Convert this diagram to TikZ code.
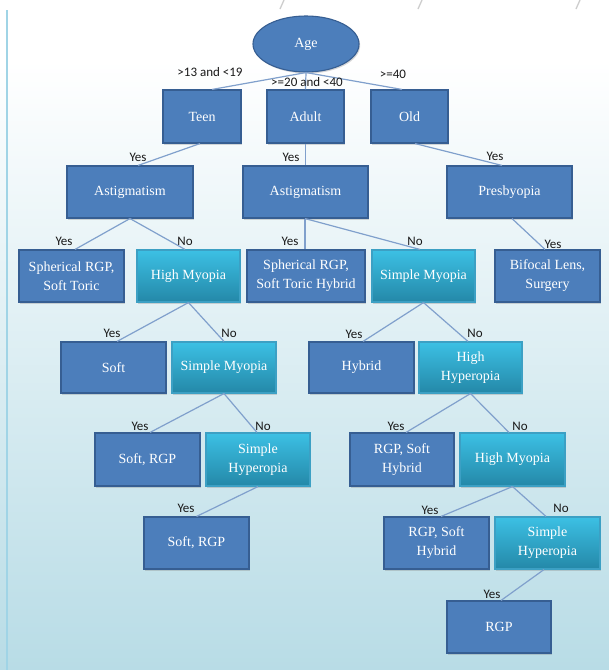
\documentclass[tikz,border=0pt]{standalone}
\usepackage{fontspec}
\setmainfont{Liberation Serif}
\newfontfamily\labelfont{Carlito}
\usetikzlibrary{shapes.geometric,shadows}

\definecolor{bgblue}{RGB}{184,220,230}
\definecolor{rimblue}{RGB}{160,212,230}
\definecolor{boxfill}{RGB}{76,126,187}
\definecolor{boxrim}{RGB}{54,94,146}
\definecolor{cyantop}{RGB}{60,192,228}
\definecolor{cyanbot}{RGB}{36,136,168}
\definecolor{cyanrim}{RGB}{60,160,196}
\definecolor{linkblue}{RGB}{128,160,204}
\definecolor{tickgray}{RGB}{205,205,205}

\tikzset{
  decision/.style={draw=boxrim, fill=boxfill, line width=1.1pt, text=white,
    align=center, inner sep=1pt,
    font=\fontsize{14}{19}\selectfont,
    drop shadow={shadow xshift=1.2pt, shadow yshift=-1.5pt, opacity=0.3}},
  query/.style={decision, draw=cyanrim, top color=cyantop, bottom color=cyanbot},
  rootnode/.style={decision, ellipse, inner sep=0pt},
  link/.style={draw=linkblue, line width=1.2pt},
  lab/.style={font=\labelfont\fontsize{13}{15}\selectfont, text=black!90, inner sep=0pt}
}

\begin{document}
\begin{tikzpicture}[x=1pt,y=-1pt]
\useasboundingbox (0,0) rectangle (609,670);

% page background
\fill[white] (0,0) rectangle (609,670);
\shade[top color=white, bottom color=bgblue] (0,60) rectangle (609,670);
\draw[rimblue, line width=1.5pt] (7,10) -- (7,670);
\draw[tickgray, line width=1.3pt] (284,0) -- (280,9);
\draw[tickgray, line width=1.3pt] (422,0) -- (418,9);
\draw[tickgray, line width=1.3pt] (580,0) -- (576,9);

% root
\node[rootnode, minimum width=106pt, minimum height=56pt] (age) at (306,44) {Age};

% level 1
\node[decision, minimum width=78pt, minimum height=53pt] (teen)  at (202,116.5) {Teen};
\node[decision, minimum width=77pt, minimum height=53pt] (adult) at (305.5,116.5) {Adult};
\node[decision, minimum width=77pt, minimum height=53pt] (old)   at (409.5,116.5) {Old};

% level 2
\node[decision, minimum width=126pt, minimum height=52pt] (astigA) at (130,192) {Astigmatism};
\node[decision, minimum width=125pt, minimum height=52pt] (astigB) at (305.5,192) {Astigmatism};
\node[decision, minimum width=125pt, minimum height=52pt] (presb)  at (509.5,192) {Presbyopia};

% level 3
\node[decision, minimum width=105pt, minimum height=52pt] (sphA)    at (71.5,276) {Spherical RGP,\\Soft Toric};
\node[query,    minimum width=103pt, minimum height=52pt] (hmyoA)   at (188.5,276) {High Myopia};
\node[decision, minimum width=118pt, minimum height=52pt] (sphB)    at (306,276) {Spherical RGP,\\Soft Toric Hybrid};
\node[query,    minimum width=103pt, minimum height=52pt] (smyoA)   at (423.5,276) {Simple Myopia};
\node[decision, minimum width=105pt, minimum height=52pt] (bifocal) at (547.5,276) {Bifocal Lens,\\Surgery};

% level 4
\node[decision, minimum width=105pt, minimum height=51pt] (soft)   at (113.5,367.5) {Soft};
\node[query,    minimum width=104pt, minimum height=51pt] (smyoB)  at (224,367.5) {Simple Myopia};
\node[decision, minimum width=105pt, minimum height=51pt] (hybrid) at (361.5,367.5) {Hybrid};
\node[query,    minimum width=103pt, minimum height=51pt] (hhyp)   at (470.5,367.5) {High\\Hyperopia};

% level 5
\node[decision, minimum width=105pt, minimum height=53pt] (srgpA)  at (147.5,459.5) {Soft, RGP};
\node[query,    minimum width=104pt, minimum height=53pt] (shypA)  at (258,459.5) {Simple\\Hyperopia};
\node[decision, minimum width=104pt, minimum height=53pt] (rshA)   at (402,459.5) {RGP, Soft\\Hybrid};
\node[query,    minimum width=105pt, minimum height=53pt] (hmyoB)  at (512.5,459.5) {High Myopia};

% level 6
\node[decision, minimum width=105pt, minimum height=52pt] (srgpB)  at (196.5,543) {Soft, RGP};
\node[decision, minimum width=105pt, minimum height=52pt] (rshB)   at (436.5,543) {RGP, Soft\\Hybrid};
\node[query,    minimum width=105pt, minimum height=52pt] (shypB)  at (547.5,543) {Simple\\Hyperopia};

% level 7
\node[decision, minimum width=104pt, minimum height=52pt] (rgp) at (499,627) {RGP};

% connectors
\draw[link] (age.south) -- ([xshift=10pt]teen.north);
\draw[link] (age.south) -- (adult.north);
\draw[link] (age.south) -- ([xshift=-7.5pt]old.north);
\draw[link] ([xshift=-2pt]teen.south) -- ([xshift=8pt]astigA.north);
\draw[link] (adult.south) -- (astigB.north);
\draw[link] ([xshift=5.5pt]old.south) -- ([xshift=-7.5pt]presb.north);
\draw[link] (astigA.south) -- ([xshift=3.5pt]sphA.north);
\draw[link] (astigA.south) -- ([xshift=-3.5pt]hmyoA.north);
\draw[link] ([xshift=-0.5pt]astigB.south) -- ([xshift=-1pt]sphB.north);
\draw[link] ([xshift=-0.5pt]astigB.south) -- ([xshift=-3.5pt]smyoA.north);
\draw[link] ([xshift=2.5pt]presb.south) -- ([xshift=-2.5pt]bifocal.north);
\draw[link] (hmyoA.south) -- ([xshift=3.5pt]soft.north);
\draw[link] (hmyoA.south) -- (smyoB.north);
\draw[link] (smyoA.south) -- ([xshift=1.5pt]hybrid.north);
\draw[link] (smyoA.south) -- ([xshift=-2.5pt]hhyp.north);
\draw[link] (smyoB.south) -- ([xshift=2.5pt]srgpA.north);
\draw[link] (smyoB.south) -- ([xshift=-1pt]shypA.north);
\draw[link] (hhyp.south) -- ([xshift=4pt]rshA.north);
\draw[link] (hhyp.south) -- ([xshift=-3.5pt]hmyoB.north);
\draw[link] (shypA.south) -- (srgpB.north);
\draw[link] (hmyoB.south) -- ([xshift=4.5pt]rshB.north);
\draw[link] (hmyoB.south) -- ([xshift=-1.5pt]shypB.north);
\draw[link] ([xshift=-3.5pt]shypB.south) -- ([xshift=2pt]rgp.north);

% branch labels
\node[lab] (tA) at (210,72) {>13 and <19};
\node[lab] (tB) at (307,82) {>=20 and <40};
\node[lab] (tC) at (393,74) {>=40};

\node[lab] (y1) at (138,157) {Yes};
\node[lab] (y2) at (291,157) {Yes};
\node[lab] (y3) at (495,156) {Yes};

\node[lab] (y4) at (64,241) {Yes};
\node[lab] (n1) at (185,241) {No};
\node[lab] (y5) at (290,241) {Yes};
\node[lab] (n2) at (415,241) {No};
\node[lab] (y6) at (553,244) {Yes};

\node[lab] (y7) at (112,333) {Yes};
\node[lab] (n3) at (229,333) {No};
\node[lab] (y8) at (354,334) {Yes};
\node[lab] (n4) at (475,333) {No};

\node[lab] (y9)  at (140,426) {Yes};
\node[lab] (n5)  at (263,426) {No};
\node[lab] (y10) at (396,426) {Yes};
\node[lab] (n6)  at (520,426) {No};

\node[lab] (y11) at (186,508) {Yes};
\node[lab] (y12) at (430,510) {Yes};
\node[lab] (n7)  at (561,508) {No};

\node[lab] (y13) at (492,594) {Yes};
\end{tikzpicture}
\end{document}
